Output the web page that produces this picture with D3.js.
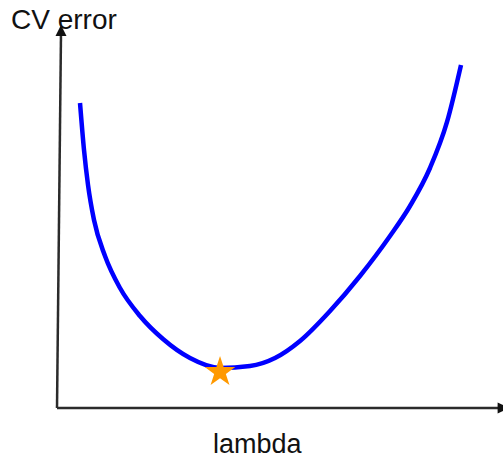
<!DOCTYPE html>
<html>
<head>
<meta charset="utf-8">
<script src="https://cdn.jsdelivr.net/npm/d3@7"></script>
<style>
  body { margin: 0; background: #fff; }
  text { font-family: "Liberation Sans", Arial, sans-serif; fill: #111; }
</style>
</head>
<body>
<script>
// curve (arbitrary units, 0-100 on both axes)
var lambdaVals = [5.23, 6.14, 7.05, 8.41, 10.91, 14.32, 18.86, 24.09, 30.23, 37.05, 43.86, 49.55, 55.23, 62.05, 68.86, 75.68, 80.23, 84.77, 88.64, 91.82];
var cvErrors   = [80.05, 67.72, 58.53, 49.34, 39.90, 31.50, 24.15, 18.11, 13.12, 10.50, 11.02, 13.12, 17.59, 25.46, 34.65, 45.14, 53.02, 62.99, 75.07, 90.03];
var bestLambda = 37.05;
var bestError = 9.45;

var width = 503, height = 461;

var svg = d3.select("body")
    .append("svg")
    .attr("width", width)
    .attr("height", height);

const x = d3.scaleLinear().domain([0, 100]).range([57, 497]);
const y = d3.scaleLinear().domain([0, 100]).range([408, 27]);

var data = lambdaVals.map((l, i) => ({ l: l, e: cvErrors[i] }));

// axes (no ticks, just arrows)
svg.append("line")
    .attr("x1", x(0)).attr("y1", y(0))
    .attr("x2", x(101.5)).attr("y2", y(0))
    .attr("stroke", "#2b2b2b")
    .attr("stroke-width", 2.5);
svg.append("line")
    .attr("x1", x(0)).attr("y1", y(0))
    .attr("x2", x(0) + 4).attr("y2", y(100) + 6)
    .attr("stroke", "#2b2b2b")
    .attr("stroke-width", 2.5);

// arrow heads
var xe = x(101.5) + 5, ye = y(0);
svg.append("path")
    .attr("d", `M${xe - 11},${ye - 5.5}L${xe + 1},${ye}L${xe - 11},${ye + 5.5}Z`)
    .attr("fill", "#111");
var tx = x(0) + 4, ty = y(100) - 2;
svg.append("path")
    .attr("d", `M${tx - 5.5},${ty + 11}L${tx},${ty}L${tx + 5.5},${ty + 11}Z`)
    .attr("fill", "#111");

// CV error curve
var line = d3.line()
    .x(d => x(d.l))
    .y(d => y(d.e))
    .curve(d3.curveMonotoneX);

svg.append("path")
    .datum(data)
    .attr("d", line)
    .attr("fill", "none")
    .attr("stroke", "#0000ff")
    .attr("stroke-width", 4.5);

// star at the minimum
svg.append("path")
    .attr("d", d3.symbol().type(d3.symbolStar).size(290))
    .attr("transform", `translate(${x(bestLambda)}, ${y(bestError)})`)
    .attr("fill", "#ff9900");

// labels
svg.append("text")
    .attr("x", 11)
    .attr("y", 29)
    .attr("font-size", 28)
    .text("CV error");

svg.append("text")
    .attr("x", 213)
    .attr("y", 453)
    .attr("font-size", 27)
    .text("lambda");
</script>
</body>
</html>
